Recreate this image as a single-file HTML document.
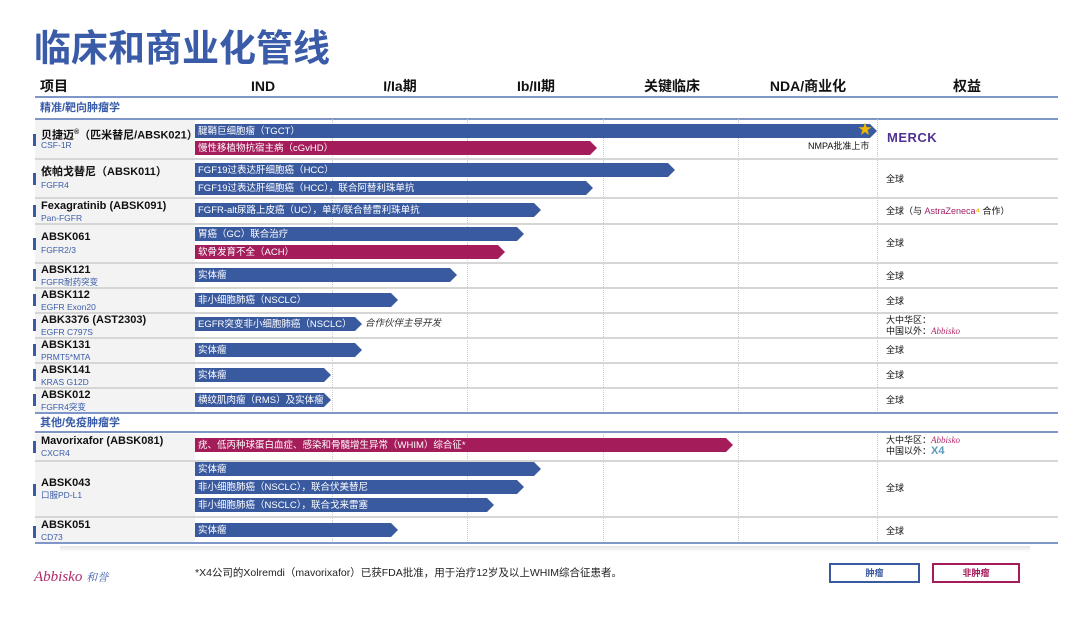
<!DOCTYPE html>
<html><head><meta charset="utf-8"><style>
*{margin:0;padding:0;box-sizing:border-box}
body{width:1080px;height:620px;background:#fff;position:relative;overflow:hidden;font-family:"Liberation Sans","Noto Sans CJK SC",sans-serif;color:#111;line-height:1.2}
.a{position:absolute}
.title{left:34px;font-size:37px;line-height:44px;font-weight:bold;color:#3a5ca8;white-space:nowrap}
.hd{top:78px;font-size:14px;line-height:17px;font-weight:bold;white-space:nowrap;transform:translateX(-50%)}
.hl{left:35px;height:2px;width:1023px;background:#7f96c8}
.sep{left:35px;height:2px;width:1023px;background:#d6d6d6}
.sec{left:40px;font-size:11px;line-height:13px;font-weight:bold;color:#3a5ca8}
.lab{left:35px;width:160px;background:#f3f3f3}
.mk{left:33px;width:3px;height:12px;background:#3a5ca8}
.nm{left:41px;font-size:11px;line-height:13px;font-weight:bold;white-space:nowrap}
.tg{left:41px;font-size:8.5px;line-height:10px;color:#3a5ca8;white-space:nowrap}
.vl{top:119px;height:424px;width:0;border-left:1px dotted #c8c8c8}
.bar{left:195px;height:14px;color:#fff;font-size:9.5px;line-height:15px;padding-left:3px;white-space:nowrap;clip-path:polygon(0 0,calc(100% - 7px) 0,100% 50%,calc(100% - 7px) 100%,0 100%)}
.b{background:#3a5aa0}.r{background:#a41c5a}
.rt{left:886px;font-size:9px;line-height:11px;white-space:nowrap}
</style></head><body>
<div class="a title" style="top:27px">临床和商业化管线</div>
<div class="a hd" style="left:40px;transform:none">项目</div>
<div class="a hd" style="left:263px">IND</div>
<div class="a hd" style="left:400px">I/Ia期</div>
<div class="a hd" style="left:536px">Ib/II期</div>
<div class="a hd" style="left:672px">关键临床</div>
<div class="a hd" style="left:808px">NDA/商业化</div>
<div class="a hd" style="left:967px">权益</div>
<div class="a hl" style="top:96px"></div>
<div class="a sec" style="top:102px">精准/靶向肿瘤学</div>
<div class="a hl" style="top:118px"></div>

<div class="a lab" style="top:120px;height:38px"></div>
<div class="a lab" style="top:160px;height:37px"></div>
<div class="a lab" style="top:199px;height:24px"></div>
<div class="a lab" style="top:225px;height:37px"></div>
<div class="a lab" style="top:264px;height:23px"></div>
<div class="a lab" style="top:289px;height:23px"></div>
<div class="a lab" style="top:314px;height:23px"></div>
<div class="a lab" style="top:339px;height:23px"></div>
<div class="a lab" style="top:364px;height:23px"></div>
<div class="a lab" style="top:389px;height:23px"></div>
<div class="a lab" style="top:434px;height:26px"></div>
<div class="a lab" style="top:462px;height:54px"></div>
<div class="a lab" style="top:518px;height:25px"></div>

<div class="a vl" style="left:332px"></div>
<div class="a vl" style="left:467px"></div>
<div class="a vl" style="left:603px"></div>
<div class="a vl" style="left:738px"></div>
<div class="a vl" style="left:877px"></div>

<div class="a sep" style="top:158px"></div>
<div class="a sep" style="top:197px"></div>
<div class="a sep" style="top:223px"></div>
<div class="a sep" style="top:262px"></div>
<div class="a sep" style="top:287px"></div>
<div class="a sep" style="top:312px"></div>
<div class="a sep" style="top:337px"></div>
<div class="a sep" style="top:362px"></div>
<div class="a sep" style="top:387px"></div>
<div class="a hl" style="top:412px"></div>
<div class="a" style="left:35px;top:414px;width:1023px;height:17px;background:#fff"></div>
<div class="a sec" style="top:417px">其他/免疫肿瘤学</div>
<div class="a hl" style="top:431px"></div>
<div class="a sep" style="top:460px"></div>
<div class="a sep" style="top:516px"></div>
<div class="a hl" style="top:542px"></div>
<div class="a" style="left:60px;top:546px;width:970px;height:6px;background:linear-gradient(#e4e4e4,#fff)"></div>

<div class="a mk" style="top:134px"></div><div class="a nm" style="top:126px">贝捷迈<sup style="font-size:7px">®</sup>（匹米替尼/ABSK021）</div><div class="a tg" style="top:140px">CSF-1R</div>
<div class="a mk" style="top:173px"></div><div class="a nm" style="top:166px">依帕戈替尼（ABSK011）</div><div class="a tg" style="top:180px">FGFR4</div>
<div class="a mk" style="top:205px"></div><div class="a nm" style="top:200px">Fexagratinib (ABSK091)</div><div class="a tg" style="top:213px">Pan-FGFR</div>
<div class="a mk" style="top:238px"></div><div class="a nm" style="top:231px">ABSK061</div><div class="a tg" style="top:245px">FGFR2/3</div>
<div class="a mk" style="top:269px"></div><div class="a nm" style="top:264px">ABSK121</div><div class="a tg" style="top:277px">FGFR耐药突变</div>
<div class="a mk" style="top:294px"></div><div class="a nm" style="top:289px">ABSK112</div><div class="a tg" style="top:302px">EGFR Exon20</div>
<div class="a mk" style="top:319px"></div><div class="a nm" style="top:314px">ABK3376 (AST2303)</div><div class="a tg" style="top:327px">EGFR C797S</div>
<div class="a mk" style="top:344px"></div><div class="a nm" style="top:339px">ABSK131</div><div class="a tg" style="top:352px">PRMT5*MTA</div>
<div class="a mk" style="top:369px"></div><div class="a nm" style="top:364px">ABSK141</div><div class="a tg" style="top:377px">KRAS G12D</div>
<div class="a mk" style="top:394px"></div><div class="a nm" style="top:389px">ABSK012</div><div class="a tg" style="top:402px">FGFR4突变</div>
<div class="a mk" style="top:441px"></div><div class="a nm" style="top:435px">Mavorixafor (ABSK081)</div><div class="a tg" style="top:448px">CXCR4</div>
<div class="a mk" style="top:484px"></div><div class="a nm" style="top:477px">ABSK043</div><div class="a tg" style="top:490px">口服PD-L1</div>
<div class="a mk" style="top:526px"></div><div class="a nm" style="top:519px">ABSK051</div><div class="a tg" style="top:532px">CD73</div>

<div class="a bar b" style="top:124px;width:682px">腱鞘巨细胞瘤（TGCT）</div>
<div class="a" style="left:858px;top:121px;color:#f2b800;font-size:14px">★</div>
<div class="a bar r" style="top:141px;width:402px">慢性移植物抗宿主病（cGvHD）</div>
<div class="a" style="left:808px;top:141px;font-size:9px">NMPA批准上市</div>
<div class="a bar b" style="top:163px;width:480px">FGF19过表达肝细胞癌（HCC）</div>
<div class="a bar b" style="top:181px;width:398px">FGF19过表达肝细胞癌（HCC），联合阿替利珠单抗</div>
<div class="a bar b" style="top:203px;width:346px">FGFR-alt尿路上皮癌（UC），单药/联合替雷利珠单抗</div>
<div class="a bar b" style="top:227px;width:329px">胃癌（GC）联合治疗</div>
<div class="a bar r" style="top:245px;width:310px">软骨发育不全（ACH）</div>
<div class="a bar b" style="top:268px;width:262px">实体瘤</div>
<div class="a bar b" style="top:293px;width:203px">非小细胞肺癌（NSCLC）</div>
<div class="a bar b" style="top:317px;width:167px">EGFR突变非小细胞肺癌（NSCLC）</div>
<div class="a" style="left:365px;top:318px;font-size:9.5px;font-style:italic;color:#333">合作伙伴主导开发</div>
<div class="a bar b" style="top:343px;width:167px">实体瘤</div>
<div class="a bar b" style="top:368px;width:136px">实体瘤</div>
<div class="a bar b" style="top:393px;width:136px">横纹肌肉瘤（RMS）及实体瘤</div>
<div class="a bar r" style="top:438px;width:538px">疣、低丙种球蛋白血症、感染和骨髓增生异常（WHIM）综合征*</div>
<div class="a bar b" style="top:462px;width:346px">实体瘤</div>
<div class="a bar b" style="top:480px;width:329px">非小细胞肺癌（NSCLC），联合伏美替尼</div>
<div class="a bar b" style="top:498px;width:299px">非小细胞肺癌（NSCLC），联合戈来雷塞</div>
<div class="a bar b" style="top:523px;width:203px">实体瘤</div>

<div class="a" style="left:887px;top:130px;font-size:13px;font-weight:bold;color:#503291;letter-spacing:0.5px">MERCK</div>
<div class="a rt" style="top:174px">全球</div>
<div class="a rt" style="top:206px">全球（与 <span style="color:#a0226a">AstraZeneca</span><span style="color:#f0b400;font-weight:bold">⁴</span> 合作）</div>
<div class="a rt" style="top:238px">全球</div>
<div class="a rt" style="top:271px">全球</div>
<div class="a rt" style="top:296px">全球</div>
<div class="a rt" style="top:315px">大中华区：<br>中国以外：<span style="color:#b02a6a;font-style:italic;font-family:'Liberation Serif',serif">Abbisko</span></div>
<div class="a rt" style="top:345px">全球</div>
<div class="a rt" style="top:370px">全球</div>
<div class="a rt" style="top:395px">全球</div>
<div class="a rt" style="top:435px">大中华区：<span style="color:#b02a6a;font-style:italic;font-family:'Liberation Serif',serif">Abbisko</span><br>中国以外：<span style="color:#5a9ab8;font-weight:bold;font-size:11px">X4</span></div>
<div class="a rt" style="top:483px">全球</div>
<div class="a rt" style="top:526px">全球</div>

<div class="a" style="left:34px;top:568px;font-size:15px;font-style:italic;color:#b02a6a;font-family:'Liberation Serif','Noto Serif CJK SC',serif">Abbisko <span style="font-size:11px;color:#3a5ca8">和誉</span></div>
<div class="a" style="left:195px;top:567px;font-size:10.5px;color:#222">*X4公司的Xolremdi（mavorixafor）已获FDA批准，用于治疗12岁及以上WHIM综合征患者。</div>
<div class="a" style="left:829px;top:563px;width:91px;height:20px;border:2px solid #3a5aa0;font-size:9px;font-weight:bold;text-align:center;line-height:16px;color:#3a5aa0">肿瘤</div>
<div class="a" style="left:932px;top:563px;width:88px;height:20px;border:2px solid #a41c5a;font-size:9px;font-weight:bold;text-align:center;line-height:16px;color:#a41c5a">非肿瘤</div>
</body></html>
